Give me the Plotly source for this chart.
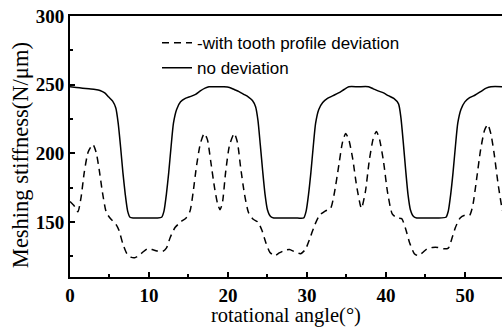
import plotly.graph_objects as go

# rotational angle (deg) and meshing stiffness (N/um), no deviation
x_nodev = [0, 0.8, 1.6, 2.4, 3.2, 3.8, 4.4, 4.9, 5.4, 5.8, 6.1, 6.4, 6.7, 7.0, 7.3, 7.6, 8.0, 9.0, 10.0, 11.0,
           11.6, 11.9, 12.2, 12.5, 12.8, 13.1, 13.5, 14.0, 14.6, 15.3, 15.9, 16.5, 17.1, 17.6, 18.5, 19.5,
           20.2, 20.8, 21.4, 22.0, 22.6, 23.1, 23.5, 23.8, 24.1, 24.4, 24.7, 25.0, 25.4, 25.8, 27.0, 28.5,
           29.6, 29.9, 30.2, 30.5, 30.8, 31.1, 31.5, 32.0, 32.6, 33.3, 34.0, 34.7, 35.3, 36.5, 37.8,
           38.4, 39.0, 39.7, 40.3, 41.0, 41.6, 41.9, 42.2, 42.5, 42.8, 43.1, 43.5, 43.9, 45.0, 46.5,
           47.6, 47.9, 48.2, 48.5, 48.8, 49.1, 49.5, 50.0, 50.6, 51.3, 52.0, 52.7, 53.3, 54.9]
y_nodev = [248.5, 248, 247.5, 247, 246.5, 245.8, 244, 241, 238, 233, 222, 205, 186, 170, 158, 153.5, 153, 153, 153, 153,
           153.5, 158, 170, 186, 205, 222, 232, 237.5, 240, 241.5, 243, 245.5, 247.5, 248.5, 248.5, 248.5,
           248, 246.5, 245, 243, 241, 238.5, 234, 224, 206, 187, 170, 159, 154, 153, 153, 153,
           153, 158, 170, 186, 205, 222, 232, 237, 240, 242, 244, 246.5, 248.5, 248.5, 248.5,
           247, 245.5, 244, 242, 240, 236, 226, 208, 188, 170, 159, 154, 153, 153, 153,
           153.5, 158, 170, 186, 205, 222, 232, 237.5, 240.5, 242.5, 245, 247.5, 248.5, 248.5]

# with tooth profile deviation
x_dev = [0, 0.5, 1.0, 1.4, 1.8, 2.3, 2.9, 3.3, 3.7, 4.1, 4.6, 5.2, 5.8, 6.2, 6.7, 7.2, 7.7, 8.2, 8.7, 9.2, 9.8,
         10.4, 11.0, 11.7, 12.2, 12.7, 13.3, 14.0, 14.7, 15.2, 15.6, 16.0, 16.5, 17.0, 17.4, 17.8, 18.3, 18.7,
         19.0, 19.3, 19.7, 20.2, 20.8, 21.2, 21.6, 22.1, 22.6, 23.2, 23.8, 24.3, 24.8, 25.3, 25.9, 26.5,
         27.2, 27.8, 28.4, 29.2, 29.8, 30.3, 31.0, 31.6, 32.3, 33.0, 33.5, 34.0, 34.5, 34.9, 35.3, 35.8,
         36.3, 36.9, 37.4, 37.9, 38.4, 38.8, 39.2, 39.7, 40.2, 40.8, 41.4, 42.0, 42.5, 43.0, 43.6, 44.1,
         44.6, 45.2, 45.9, 46.6, 47.3, 47.9, 48.3, 48.8, 49.4, 50.0, 50.6, 51.0, 51.5, 52.0, 52.5, 52.9,
         53.3, 53.7, 54.2, 54.7, 54.9]
y_dev = [165, 162, 157.5, 168, 186, 201, 206.5, 201, 188, 172, 157, 152, 148.5, 144, 134, 127, 124.5, 124, 125.5, 128, 130.5,
         130, 129, 128.5, 131, 139, 146, 150, 153, 158, 172, 190, 207, 214.5, 210, 195, 175, 163,
         159, 164, 186, 206, 214.5, 208, 190, 170, 157, 152, 150, 144, 135, 128, 125.5, 127.5,
         129.5, 130, 128.5, 127, 130, 137, 148, 155, 158, 160, 172, 190, 208, 214.5, 210, 196,
         176, 160, 172, 195, 211, 216, 210, 194, 172, 156, 153, 152.5, 145, 135, 127, 125.5,
         127.5, 130.5, 131.5, 131.5, 130.5, 131, 137, 146, 153, 155, 155, 162, 182, 203, 217, 221,
         214, 200, 178, 160, 156]

x_ticks = [0, 10, 20, 30, 40, 50]
y_ticks = [150, 200, 250, 300]

fig = go.Figure()
fig.add_trace(go.Scatter(x=x_dev, y=y_dev, mode="lines", name="-with tooth profile deviation",
                         line=dict(color="black", width=1.5, dash="7px,5px", shape="spline", smoothing=0.6)))
fig.add_trace(go.Scatter(x=x_nodev, y=y_nodev, mode="lines", name="no deviation",
                         line=dict(color="black", width=1.5, shape="spline", smoothing=0.6)))

tickfont = dict(family="Liberation Serif", size=19, color="black", weight="bold")

fig.update_layout(
    width=502, height=327,
    margin=dict(l=70, r=0, t=16, b=50),
    plot_bgcolor="white", paper_bgcolor="white",
    showlegend=True,
    legend=dict(x=0.2014, y=0.965, xanchor="left", yanchor="top",
                font=dict(family="Liberation Sans", size=17, color="black"),
                bgcolor="rgba(0,0,0,0)", tracegroupgap=0),
    xaxis=dict(range=[0, 54.7], tickvals=x_ticks, showgrid=False, zeroline=False,
               showline=True, linecolor="black", linewidth=2, mirror=True,
               ticks="inside", ticklen=5, tickwidth=2, tickcolor="black",
               minor=dict(ticks="inside", dtick=5, ticklen=3, tickwidth=2, tickcolor="black"),
               tickfont=tickfont),
    yaxis=dict(range=[110, 300.01], tickvals=y_ticks, showgrid=False, zeroline=False,
               showline=True, linecolor="black", linewidth=2, mirror=False,
               ticks="inside", ticklen=5, tickwidth=2, tickcolor="black",
               minor=dict(ticks="inside", dtick=25, ticklen=3, tickwidth=2, tickcolor="black"),
               tickfont=tickfont),
    annotations=[
        dict(text="Meshing stiffness(N/μm)", textangle=-90, showarrow=False,
             xref="paper", yref="paper", x=-0.1157, y=0.467, xanchor="center", yanchor="middle",
             font=dict(family="Liberation Serif", size=22.5, color="black")),
        dict(text="rotational angle(°)", showarrow=False,
             xref="paper", yref="paper", x=0.5, y=-0.1456, xanchor="center", yanchor="middle",
             font=dict(family="Liberation Serif", size=20.5, color="black")),
    ],
)

fig.write_html("out.html", config={"displayModeBar": False},
               post_script="document.body.style.margin='0';document.body.style.padding='0';")
